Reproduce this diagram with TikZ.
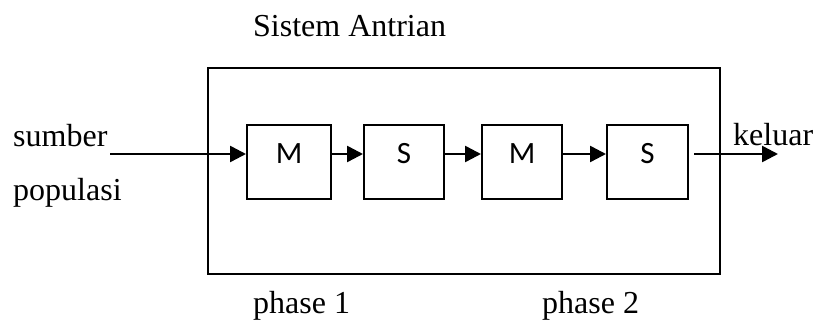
\documentclass[tikz,border=0pt]{standalone}
\usepackage{fontspec}
\setmainfont{Liberation Serif}
\newfontfamily\boxfont{Carlito}
\usetikzlibrary{arrows.meta}
\begin{document}
\begin{tikzpicture}[x=1pt,y=-1pt,
  frame/.style={draw, line width=2.1pt, minimum width=512pt, minimum height=206pt, inner sep=0pt},
  stage/.style={draw, line width=2pt, minimum height=74pt, inner sep=0pt},
  tag/.style={font=\boxfont\fontsize{31}{36}\selectfont, anchor=base, inner sep=0pt, yshift=-2pt},
  txt/.style={font=\fontsize{32}{38}\selectfont, anchor=base west, inner sep=0pt},
  flow/.style={line width=2.5pt, -{Triangle[length=16pt,width=16pt]}}]
\useasboundingbox (0,0) rectangle (816,320);

% queueing system frame
\node[frame] (sys) at (464,171) {};
\node[txt] (title) at (253,37) {Sistem Antrian};

% service stages
\node[stage, minimum width=84pt] (M1) at (289,162) {};
\node[stage, minimum width=80pt] (S1) at (404,162) {};
\node[stage, minimum width=80pt] (M2) at (522,162) {};
\node[stage, minimum width=81pt] (S2) at (647.5,162) {};
\node[tag] (M1t) at (M1) {M};
\node[tag] (S1t) at (S1) {S};
\node[tag] (M2t) at (M2) {M};
\node[tag] (S2t) at (S2) {S};

% flow through the system
\coordinate (src) at (110,154);
\coordinate (out) at (778,154);
\draw[flow] (src) -- (src -| M1.west);
\draw[flow] (M1.east |- src) -- (S1.west |- src);
\draw[flow] (S1.east |- src) -- (M2.west |- src);
\draw[flow] (M2.east |- src) -- (S2.west |- src);
\draw[flow, shorten <=5pt] (S2.east |- src) -- (out);

% labels
\node[txt] (sumber) at (13,147) {sumber};
\node[txt] (populasi) at (13,201) {populasi};
\node[txt] (keluar) at (733,146) {keluar};
\node[txt] (ph1) at (253,313) {phase 1};
\node[txt] (ph2) at (542,313) {phase 2};
\end{tikzpicture}
\end{document}
